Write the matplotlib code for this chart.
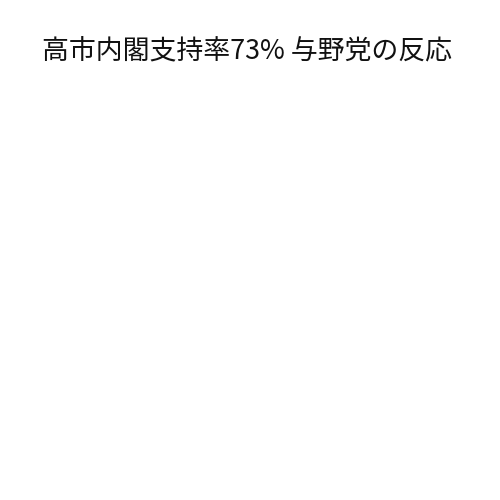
import matplotlib.pyplot as plt

# Chart title only; the reference has no plotted data
title = "高市内閣支持率73% 与野党の反応"

plt.rcParams["font.family"] = ["Noto Sans CJK JP", "DejaVu Sans"]

fig = plt.figure(figsize=(5, 5), dpi=100)
fig.patch.set_facecolor("white")
fig.text(0.494, 0.898, title, ha="center", va="center", fontsize=19.4, color="#111111")

fig.savefig("out.png", dpi=100, facecolor="white")
